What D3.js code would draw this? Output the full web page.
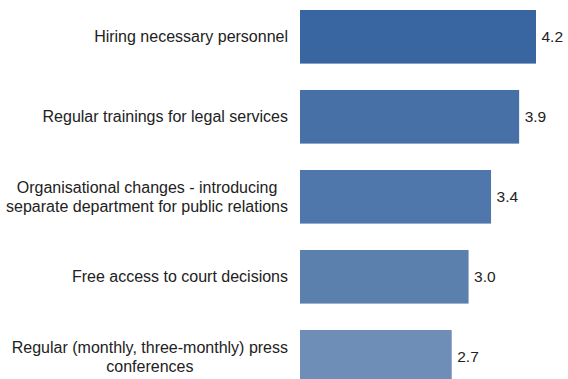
<!DOCTYPE html>
<html>
<head>
<meta charset="utf-8">
<script src="https://cdn.jsdelivr.net/npm/d3@7"></script>
<style>
  html, body { margin: 0; padding: 0; background: #fff; }
  svg { display: block; }
  text { font-family: "Liberation Sans", Arial, sans-serif; }
</style>
</head>
<body>
<svg id="chart" width="568" height="379"></svg>
<script>
// Measures and their average scores
const categories = [
  ["Hiring necessary personnel"],
  ["Regular trainings for legal services"],
  ["Organisational changes - introducing", "separate department for public relations"],
  ["Free access to court decisions"],
  ["Regular (monthly, three-monthly) press", "conferences"]
];
const values = [4.2, 3.9, 3.4, 3.0, 2.7];
const valueLabels = ["4.2", "3.9", "3.4", "3.0", "2.7"];
const barColors = ["#3966a0", "#4670a6", "#5077ab", "#5b80ae", "#6e8eb8"];

const width = 568, height = 379;
const svg = d3.select("#chart");

const x = d3.scaleLinear().domain([0, 4.2]).range([300, 536]);
const y = d3.scaleBand()
  .domain(d3.range(values.length))
  .range([10, 383.6])
  .paddingInner(0.33)
  .paddingOuter(0);

// Bars
svg.selectAll("rect.bar")
  .data(values)
  .join("rect")
  .attr("class", "bar")
  .attr("x", x(0))
  .attr("y", (d, i) => y(i))
  .attr("width", d => x(d) - x(0))
  .attr("height", y.bandwidth())
  .attr("fill", (d, i) => barColors[i]);

// Value labels at bar ends
svg.selectAll("text.val")
  .data(values)
  .join("text")
  .attr("class", "val")
  .attr("x", d => x(d) + 5.5)
  .attr("y", (d, i) => y(i) + y.bandwidth() / 2)
  .attr("dy", "0.35em")
  .attr("font-size", 15.5)
  .attr("fill", "#222")
  .text((d, i) => valueLabels[i]);

// Category labels: each block centred, right edge aligned near the bars
const lineH = 19;
const labelRight = 288;
categories.forEach((lines, i) => {
  const g = svg.append("g");
  const cy = y(i) + y.bandwidth() / 2;
  const texts = lines.map((ln, k) => g.append("text")
    .attr("y", cy + (k - (lines.length - 1) / 2) * lineH)
    .attr("dy", "0.35em")
    .attr("font-size", 16)
    .attr("fill", "#222")
    .attr("text-anchor", "middle")
    .text(ln));
  const maxW = d3.max(texts, t => t.node().getComputedTextLength());
  texts.forEach(t => t.attr("x", labelRight - maxW / 2));
});
</script>
</body>
</html>
